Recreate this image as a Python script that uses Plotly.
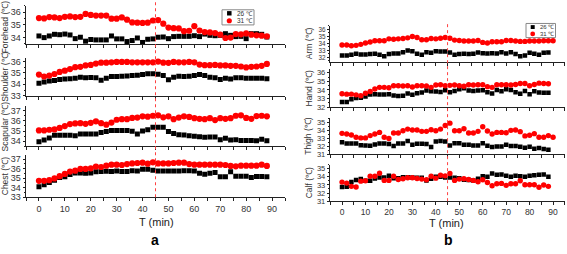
import plotly.graph_objects as go

W, H = 567, 254

# ---------------- data ----------------
T88 = [0, 2, 4, 6, 8, 10, 12, 14, 16, 18, 20, 22, 24, 26, 28, 30, 32, 34, 36, 38, 40, 42,
       44, 46, 48, 50, 52, 54, 56, 58, 60, 62, 64, 66, 68, 70, 72, 74, 76, 78, 80, 82, 84, 86, 88]
T90 = T88 + [90]

forehead_26 = [34.13, 34.00, 34.13, 34.26, 34.23, 34.28, 34.21, 33.92, 34.03, 33.72, 33.85, 33.82,
               33.82, 33.82, 34.13, 33.90, 33.90, 33.69, 33.77, 33.97, 33.62, 33.87, 33.90, 34.03,
               34.05, 33.92, 34.08, 34.10, 34.10, 34.10, 34.15, 34.08, 34.28, 34.18, 34.15, 34.18,
               34.31, 34.18, 34.08, 34.10, 33.92, 34.31, 34.31, 34.26, 34.05]
forehead_31 = [35.54, 35.51, 35.62, 35.59, 35.54, 35.64, 35.67, 35.62, 35.64, 35.87, 35.79, 35.74,
               35.74, 35.74, 35.49, 35.49, 35.59, 35.41, 35.20, 35.18, 35.16, 35.18, 35.35, 35.38,
               35.10, 34.79, 34.74, 34.72, 34.51, 34.54, 34.90, 34.56, 34.44, 34.41, 34.36, 34.23,
               33.97, 34.00, 34.28, 34.26, 34.33, 34.23, 34.18, 34.15, 34.10]

shoulder_26 = [34.09, 34.20, 34.29, 34.34, 34.43, 34.46, 34.49, 34.54, 34.63, 34.57, 34.60, 34.57,
               34.37, 34.54, 34.69, 34.69, 34.71, 34.74, 34.77, 34.80, 34.86, 34.94, 34.94, 34.89,
               34.77, 34.40, 34.63, 34.71, 34.69, 34.71, 34.77, 34.86, 34.77, 34.63, 34.57, 34.43,
               34.54, 34.46, 34.57, 34.57, 34.54, 34.54, 34.54, 34.54, 34.49]
shoulder_31 = [34.86, 34.69, 34.77, 34.91, 35.09, 35.20, 35.34, 35.51, 35.54, 35.66, 35.71, 35.83,
               35.91, 35.91, 35.94, 35.97, 35.97, 35.97, 35.94, 35.94, 35.94, 35.94, 35.94, 36.00,
               35.91, 35.89, 35.97, 35.94, 35.94, 35.97, 35.94, 35.74, 35.69, 35.69, 35.71, 35.66,
               35.66, 35.63, 35.63, 35.57, 35.49, 35.54, 35.57, 35.63, 35.80]

scapular_26 = [33.97, 34.12, 34.33, 34.58, 34.58, 34.58, 34.58, 34.55, 34.70, 34.70, 34.70, 34.70,
               34.85, 34.94, 35.06, 35.06, 35.06, 35.06, 34.97, 34.70, 35.00, 35.12, 35.36, 35.36,
               35.36, 34.94, 34.76, 34.64, 34.61, 34.55, 34.48, 34.45, 34.39, 34.42, 34.42, 34.15,
               34.30, 34.12, 34.15, 34.09, 34.09, 34.09, 34.06, 34.21, 34.06]
scapular_31 = [35.06, 35.06, 35.12, 35.15, 35.30, 35.48, 35.67, 35.73, 35.76, 35.70, 35.79, 35.94,
               35.76, 35.61, 35.82, 36.09, 36.15, 36.15, 36.27, 36.30, 36.42, 36.39, 36.48, 36.52,
               36.33, 36.42, 36.15, 36.30, 36.42, 36.36, 36.24, 36.18, 36.15, 36.24, 36.06, 36.24,
               36.18, 36.24, 36.48, 36.52, 36.27, 36.18, 36.45, 36.48, 36.42]

chest_26 = [34.10, 34.31, 34.55, 34.79, 35.07, 35.14, 35.38, 35.55, 35.55, 35.52, 35.55, 35.66,
            35.69, 35.72, 35.69, 35.76, 35.69, 35.69, 35.79, 35.76, 35.93, 35.93, 35.83, 35.76,
            35.76, 35.76, 35.76, 35.76, 35.79, 35.79, 35.76, 35.52, 35.41, 35.52, 35.59, 35.14,
            35.14, 35.66, 35.21, 35.21, 35.21, 35.07, 35.17, 35.17, 35.14]
chest_31 = [34.72, 34.72, 34.79, 34.97, 35.21, 35.45, 35.69, 35.79, 35.97, 35.97, 36.03, 36.21,
            36.17, 36.31, 36.41, 36.41, 36.38, 36.48, 36.55, 36.59, 36.62, 36.52, 36.66, 36.55,
            36.55, 36.55, 36.59, 36.62, 36.62, 36.48, 36.41, 36.41, 36.41, 36.41, 36.41, 36.41,
            36.38, 36.28, 36.24, 36.31, 36.31, 36.31, 36.31, 36.41, 36.28]

arm_26 = [32.28, 32.28, 32.37, 32.51, 32.42, 32.42, 32.47, 32.51, 32.37, 32.14, 32.47, 32.56,
          32.56, 32.74, 32.98, 32.88, 32.51, 32.37, 32.74, 32.65, 32.88, 32.84, 32.84, 32.70,
          32.37, 32.47, 32.51, 32.47, 32.51, 32.70, 32.60, 32.56, 32.60, 32.56, 32.74, 32.56,
          32.74, 32.47, 32.14, 32.28, 32.65, 32.51, 32.37, 32.65, 32.70]
arm_31 = [33.77, 33.77, 33.67, 33.72, 33.86, 34.05, 34.19, 34.37, 34.37, 34.37, 34.65, 34.60,
          34.65, 34.70, 34.79, 34.98, 34.84, 34.51, 34.51, 34.70, 34.65, 34.74, 34.84, 34.74,
          34.47, 34.42, 34.33, 34.33, 34.33, 34.42, 34.14, 34.05, 34.23, 34.23, 34.23, 34.42,
          34.42, 34.33, 34.28, 34.28, 34.33, 34.33, 34.33, 34.37, 34.37, 34.37]

hand_26 = [32.60, 32.60, 32.91, 33.06, 33.09, 33.25, 33.47, 33.51, 33.47, 33.47, 33.51, 33.36,
           33.28, 33.32, 33.58, 33.43, 33.62, 33.70, 33.92, 33.85, 33.81, 33.77, 33.96, 33.74,
           33.89, 34.08, 34.19, 33.92, 33.89, 33.92, 33.96, 33.74, 33.58, 34.00, 33.85, 34.08,
           34.00, 33.74, 33.55, 33.89, 33.51, 33.85, 33.70, 33.66, 33.66]
hand_31 = [33.55, 33.51, 33.51, 33.43, 33.32, 33.62, 33.81, 34.11, 34.30, 34.30, 34.26, 34.49,
           34.49, 34.45, 34.49, 34.34, 34.49, 34.49, 34.45, 34.30, 34.57, 34.60, 34.49, 34.53,
           34.57, 34.49, 34.42, 34.60, 34.57, 34.60, 34.60, 34.38, 34.30, 34.60, 34.60, 34.60,
           34.57, 34.64, 34.75, 34.75, 34.49, 34.64, 34.79, 34.75, 34.72]

thigh_26 = [32.51, 32.35, 32.35, 32.35, 32.14, 32.10, 32.06, 32.22, 32.35, 32.35, 32.27, 32.02,
            32.35, 32.35, 32.67, 32.18, 32.31, 32.31, 32.27, 31.90, 32.59, 32.67, 32.59, 32.10,
            32.39, 32.39, 32.18, 32.18, 32.10, 32.10, 32.39, 32.06, 31.90, 31.98, 31.98, 32.18,
            32.02, 32.02, 31.94, 31.82, 31.94, 31.69, 31.78, 31.65, 31.57]
thigh_31 = [33.61, 33.53, 33.41, 33.12, 33.04, 33.04, 33.33, 33.53, 33.73, 33.12, 32.96, 33.65,
            33.65, 33.94, 34.14, 34.02, 34.02, 33.86, 33.86, 34.06, 33.94, 34.14, 34.59, 34.88,
            33.94, 33.94, 34.18, 33.65, 33.65, 33.86, 34.43, 33.90, 33.53, 33.73, 33.73, 33.69,
            33.98, 34.02, 33.82, 33.29, 33.37, 33.57, 33.12, 33.12, 33.33, 33.12]

calf_26 = [32.74, 32.78, 33.34, 33.59, 33.71, 33.51, 33.51, 33.79, 33.91, 33.91, 34.11, 33.83,
           33.83, 33.95, 33.95, 33.91, 33.87, 33.87, 33.55, 33.75, 33.99, 33.99, 33.91, 33.91,
           33.87, 33.83, 33.63, 33.59, 33.55, 33.75, 34.07, 33.99, 34.39, 34.23, 34.27, 34.11,
           33.99, 34.11, 34.07, 33.99, 34.11, 34.19, 34.23, 34.27, 33.99]
calf_31 = [33.34, 33.22, 32.82, 32.74, 33.46, 33.51, 34.07, 34.07, 34.43, 33.55, 33.55, 34.07,
           33.67, 33.75, 33.87, 33.87, 33.79, 33.71, 33.63, 34.07, 33.83, 34.19, 34.11, 34.39,
           33.55, 33.71, 33.75, 33.67, 33.55, 33.38, 33.63, 33.30, 32.90, 33.14, 33.18, 32.94,
           33.14, 33.14, 33.51, 33.02, 33.02, 33.02, 32.70, 32.98, 32.82]

series_names = ["26 ℃", "31 ℃"]
left_labels = ["Forehead (℃)", "Shoulder (℃)", "Scapular (℃)", "Chest (℃)"]
right_labels = ["Arm (℃)", "Hand (℃)", "Thigh (℃)", "Calf (℃)"]
left_ticks = [[34, 35, 36], [33, 34, 35, 36], [34, 35, 36, 37], [33, 34, 35, 36, 37]]
right_ticks = [[32, 33, 34, 35, 36], [32, 33, 34, 35, 36], [31, 32, 33, 34, 35], [31, 32, 33, 34, 35]]
x_ticks = [0, 10, 20, 30, 40, 50, 60, 70, 80, 90]
event_time = 45

left_data = [(forehead_26, forehead_31), (shoulder_26, shoulder_31),
             (scapular_26, scapular_31), (chest_26, chest_31)]
right_data = [(arm_26, arm_31), (hand_26, hand_31), (thigh_26, thigh_31), (calf_26, calf_31)]

# ---------------- layout helpers ----------------
def px(x):
    return x / W

def py(y):
    return 1 - y / H

FONT = "Liberation Sans, Arial, sans-serif"
AX = "#222222"
RED = "#ff0000"
BLACK = "#000000"

left_rows = [(5, 44, [33.5, 36.5]), (58, 97, [33.0, 36.35]),
             (108, 149, [33.5, 37.38]), (158, 201, [33.0, 37.4])]
right_rows = [(25.5, 62, [31.4, 36.5]), (69.5, 108.7, [32.0, 36.45]),
              (120, 157, [31.0, 35.5]), (167.5, 205, [31.0, 35.5])]
left_x = (26, 285)
right_x = (330.3, 564.8)

fig = go.Figure()
layout = {}
annotations = []
shapes = []

def add_panel(rows, xdom, data, labels, ticks, start_idx, msize, tickfs, xtickfs, titlex, titlefs, title_dy):
    for i, ((top, bot, yr), (s26, s31), lab, tv) in enumerate(zip(rows, data, labels, ticks)):
        k = start_idx + i
        xn = "x" if k == 1 else f"x{k}"
        yn = "y" if k == 1 else f"y{k}"
        xk = "xaxis" if k == 1 else f"xaxis{k}"
        yk = "yaxis" if k == 1 else f"yaxis{k}"
        t26 = T88 if len(s26) == len(T88) else T90
        t31 = T88 if len(s31) == len(T88) else T90
        fig.add_trace(go.Scatter(x=t26, y=s26, mode="markers", name=series_names[0],
                                 marker=dict(symbol="square", size=msize[0], color=BLACK),
                                 xaxis=xn, yaxis=yn, showlegend=False))
        fig.add_trace(go.Scatter(x=t31, y=s31, mode="markers", name=series_names[1],
                                 marker=dict(symbol="circle", size=msize[1], color=RED),
                                 xaxis=xn, yaxis=yn, showlegend=False))
        last = (i == len(rows) - 1)
        layout[xk] = dict(domain=[px(xdom[0]), px(xdom[1])], range=[-5, 95], anchor=yn,
                          showline=True, linecolor=AX, linewidth=1, mirror=False,
                          ticks="outside", ticklen=3, tickwidth=1, tickcolor=AX,
                          tickvals=x_ticks, showticklabels=last,
                          tickfont=dict(size=xtickfs, color="#333333"),
                          minor=dict(dtick=5, tick0=0, ticks="outside", ticklen=3, tickcolor=AX),
                          showgrid=False, zeroline=False, fixedrange=True)
        layout[yk] = dict(domain=[py(bot), py(top)], range=yr, anchor=xn,
                          showline=True, linecolor=AX, linewidth=1,
                          ticks="outside", ticklen=2.5, tickwidth=1, tickcolor=AX,
                          tickvals=tv, tickfont=dict(size=tickfs[i], color="#333333"),
                          minor=dict(dtick=0.5, ticks="outside", ticklen=1.5, tickcolor=AX),
                          showgrid=False, zeroline=False, fixedrange=True)
        dy = title_dy[i]
        annotations.append(dict(text=lab, x=px(titlex), y=py((top + bot) / 2 + dy), xref="paper", yref="paper",
                                textangle=-90, showarrow=False, xanchor="center", yanchor="middle",
                                font=dict(size=titlefs, color="#333333", family=FONT)))

add_panel(left_rows, left_x, left_data, left_labels, left_ticks, 1, (5, 6.2), [9, 9, 9, 9], 9, 5, 8.5,
          [2.5, 0, 0, 0])
add_panel(right_rows, right_x, right_data, right_labels, right_ticks, 5, (4.5, 5.4), [6.3, 7.5, 7.5, 7.5], 8.5,
          308.5, 8.5, [0, 0, 0, 0])

# dotted event lines at T = 45
shapes.append(dict(type="line", xref="x", yref="paper", x0=event_time, x1=event_time,
                   y0=py(201), y1=py(0), line=dict(color="#ff4040", width=1, dash="dot")))
shapes.append(dict(type="line", xref="x5", yref="paper", x0=event_time, x1=event_time,
                   y0=py(205), y1=py(23), line=dict(color="#ff4040", width=1, dash="dot")))

# legend boxes
def legend_box(x0, y0, x1, y1, sx, sy1, sy2, tx, sq, cr, fs):
    shapes.append(dict(type="rect", xref="paper", yref="paper", x0=px(x0), x1=px(x1),
                       y0=py(y1), y1=py(y0), line=dict(color="#888888", width=1), fillcolor="white"))
    shapes.append(dict(type="rect", xref="paper", yref="paper", x0=px(sx - sq / 2), x1=px(sx + sq / 2),
                       y0=py(sy1 + sq / 2), y1=py(sy1 - sq / 2), line=dict(width=0), fillcolor=BLACK))
    shapes.append(dict(type="circle", xref="paper", yref="paper", x0=px(sx - cr / 2), x1=px(sx + cr / 2),
                       y0=py(sy2 + cr / 2), y1=py(sy2 - cr / 2), line=dict(width=0), fillcolor=RED))
    for name, yy in zip(series_names, (sy1, sy2)):
        annotations.append(dict(text=name, x=px(tx), y=py(yy), xref="paper", yref="paper",
                                showarrow=False, xanchor="left", yanchor="middle",
                                font=dict(size=fs, color="#333333", family=FONT)))

legend_box(222, 9, 254, 24.5, 229.3, 12.6, 20.3, 235, 4.5, 5.2, 6.5)
legend_box(526, 23, 555.5, 37.5, 532.7, 26.7, 33.7, 537.5, 4, 4.8, 6)

# axis captions and panel letters
for txt, x, y in (("T (min)", 156, 226), ("T (min)", 446, 227)):
    annotations.append(dict(text=txt, x=px(x), y=py(y), xref="paper", yref="paper", showarrow=False,
                            xanchor="center", yanchor="middle", font=dict(size=11, color="#222222", family=FONT)))
for txt, x, y in (("<b>a</b>", 155, 245), ("<b>b</b>", 448, 245)):
    annotations.append(dict(text=txt, x=px(x), y=py(y), xref="paper", yref="paper", showarrow=False,
                            xanchor="center", yanchor="middle", font=dict(size=14, color="#000000", family=FONT)))

fig.update_layout(width=W, height=H, autosize=False, margin=dict(l=0, r=0, t=0, b=0),
                  paper_bgcolor="white", plot_bgcolor="white", showlegend=False,
                  font=dict(family=FONT, color="#333333"),
                  annotations=annotations, shapes=shapes, **layout)

fig.write_html("out.html", config={"displayModeBar": False, "staticPlot": True},
               post_script="document.body.style.margin='0';document.body.style.overflow='hidden';")
